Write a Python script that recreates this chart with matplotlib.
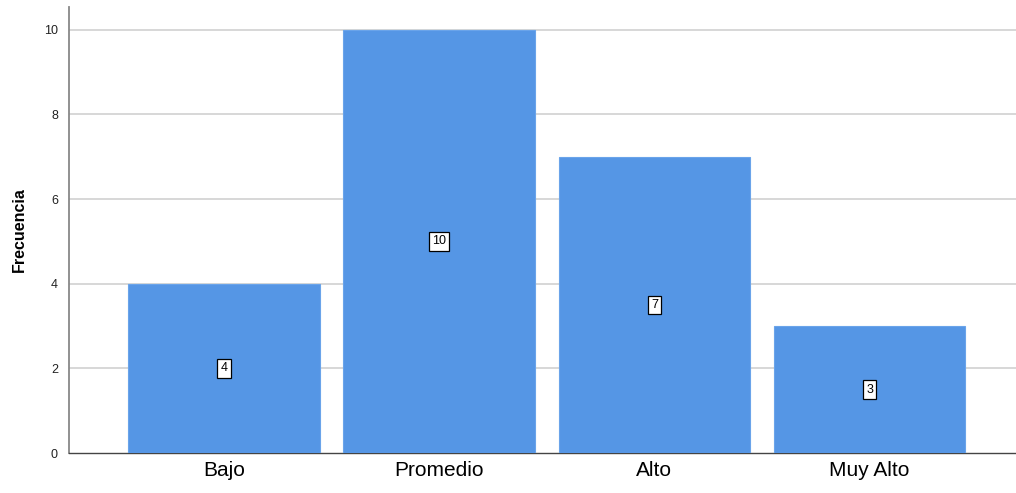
import numpy as np
import matplotlib.pyplot as plt

plt.rcParams['font.family'] = ['Liberation Sans', 'DejaVu Sans']

# frecuencias por nivel
categorias = ['Bajo', 'Promedio', 'Alto', 'Muy Alto']
frecuencias = [4, 10, 7, 3]

fig = plt.figure(figsize=(10.16, 4.93), dpi=100)
ax = fig.add_axes([0.068, 0.081, 0.932, 0.905])

x = np.arange(len(categorias))
bars = ax.bar(x, frecuencias, width=0.89, color='#5596e5', edgecolor='#6aa4ea',
              linewidth=0.8, zorder=3)

# etiqueta con el valor en el centro de cada barra
for xi, v in zip(x, frecuencias):
    ax.text(xi, v / 2, str(v), ha='center', va='center', fontsize=9, zorder=4,
            bbox=dict(boxstyle='square,pad=0.25', facecolor='white',
                      edgecolor='black', linewidth=0.9))

ax.set_xlim(-0.72, 3.68)
ax.set_ylim(0, 10.54)
ax.set_yticks([0, 2, 4, 6, 8, 10])
ax.set_xticks(x)
ax.set_xticklabels(categorias, fontsize=15)
ax.tick_params(axis='y', length=0, labelsize=9, pad=8, colors='#222222')
ax.tick_params(axis='x', length=0, pad=6)

for g in [2, 4, 6, 8, 10]:
    ax.axhline(g, color='#d4d4d4', linewidth=1.3, zorder=1)

ax.set_ylabel('Frecuencia', fontsize=11.5, fontweight='bold', labelpad=12)

for s in ['top', 'right']:
    ax.spines[s].set_visible(False)
ax.spines['left'].set_color('#888888')
ax.spines['left'].set_linewidth(1.3)
ax.spines['bottom'].set_color('#444444')
ax.spines['bottom'].set_linewidth(1.0)

plt.savefig('out.png')
